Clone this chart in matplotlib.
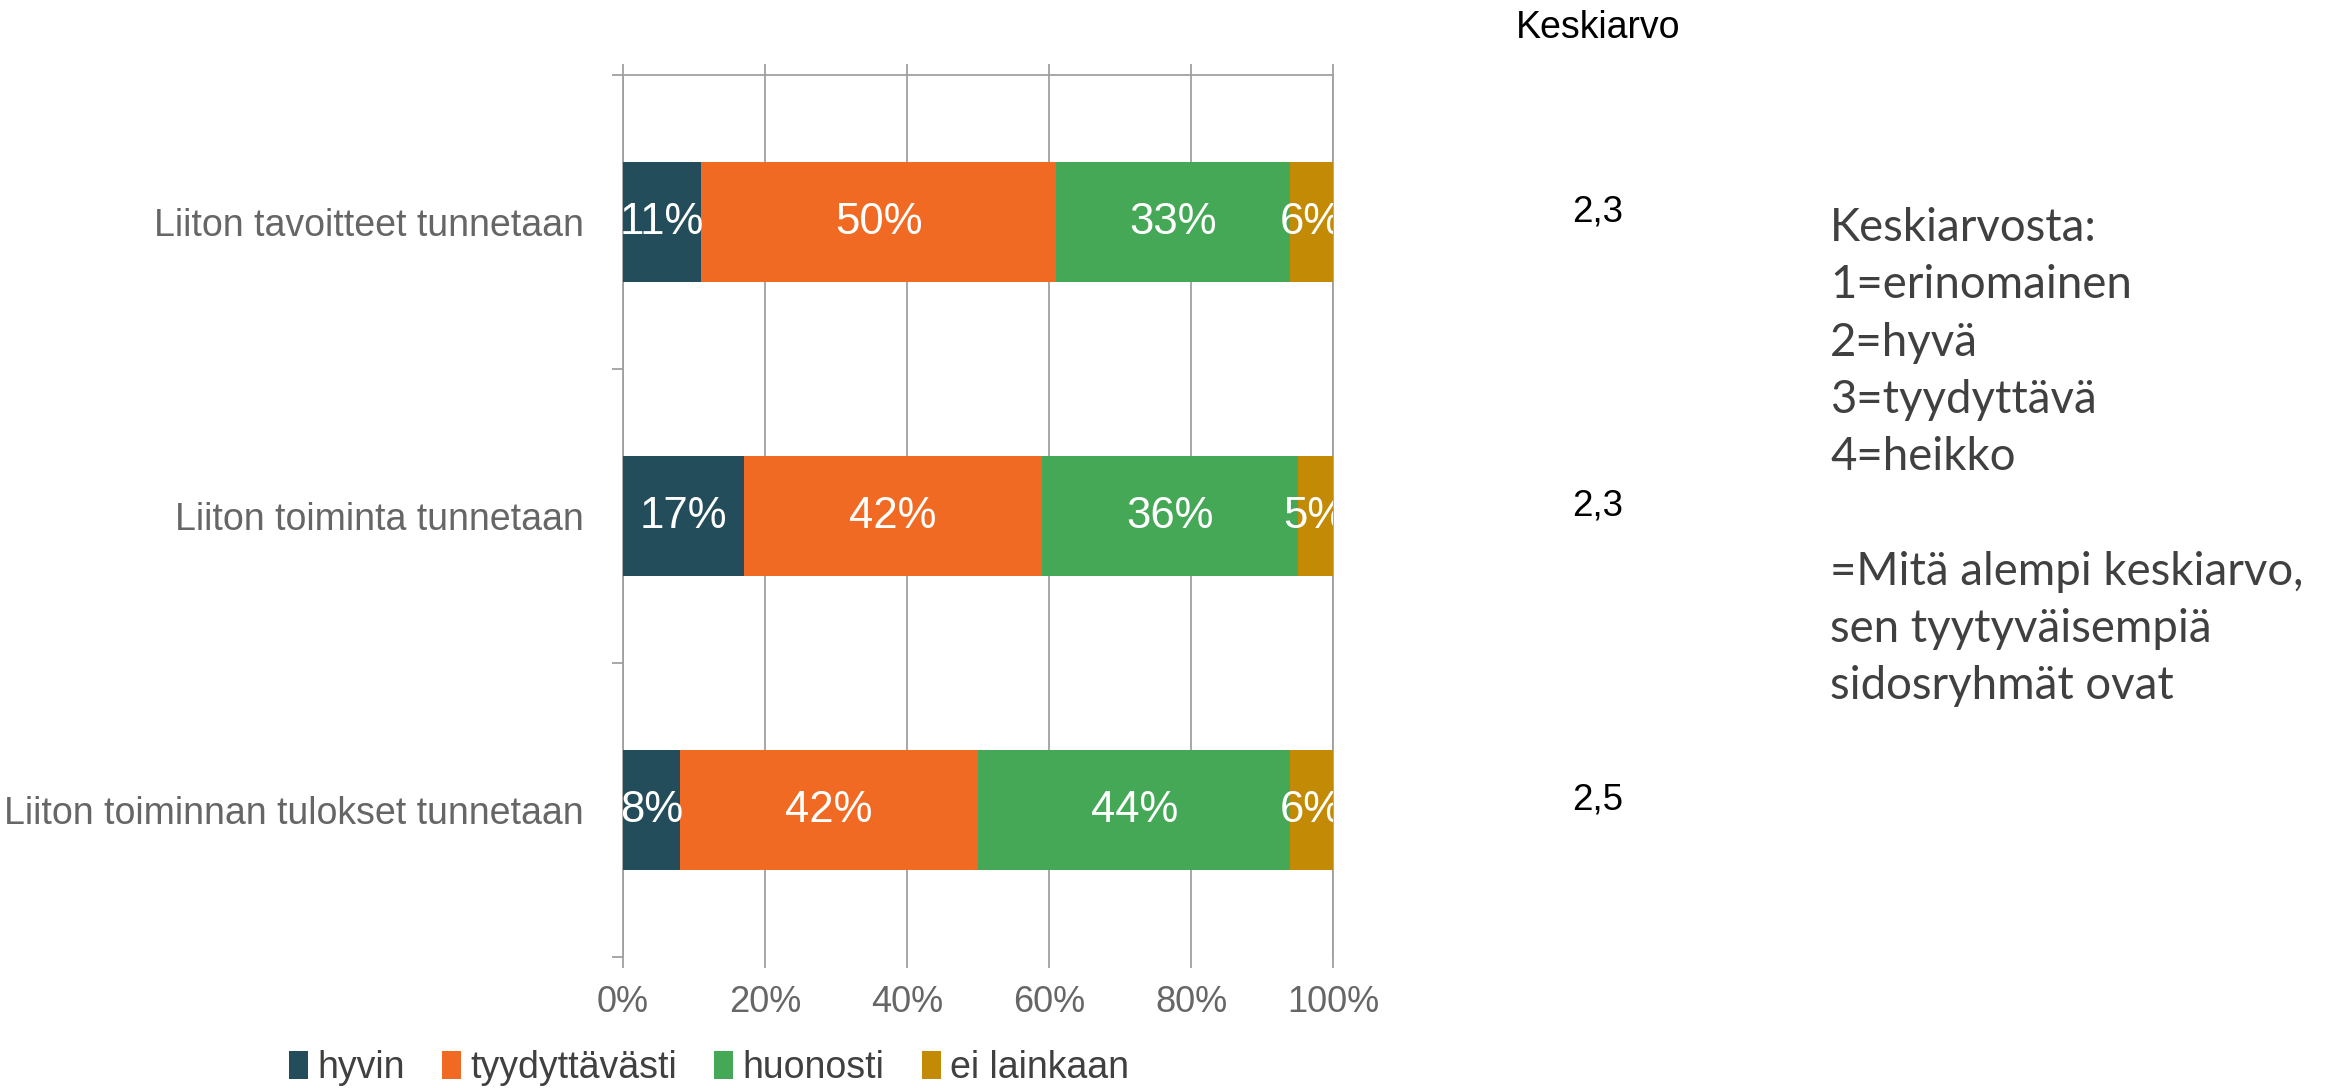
import matplotlib
matplotlib.use("Agg")
import matplotlib.pyplot as plt
import numpy as np
from matplotlib.ticker import FuncFormatter
from matplotlib.transforms import blended_transform_factory

# ---- data ----
categories = ["Liiton tavoitteet tunnetaan",
              "Liiton toiminta tunnetaan",
              "Liiton toiminnan tulokset tunnetaan"]
series_names = ["hyvin", "tyydyttävästi", "huonosti", "ei lainkaan"]
hyvin = [11, 17, 8]
tyydyttavasti = [50, 42, 42]
huonosti = [33, 36, 44]
ei_lainkaan = [6, 5, 6]
keskiarvo = ["2,3", "2,3", "2,5"]
colors = ["#234D5B", "#F16A24", "#45A856", "#C28A05"]
xticks = [0, 20, 40, 60, 80, 100]
note_lines = ["Keskiarvosta:", "1=erinomainen", "2=hyvä", "3=tyydyttävä",
              "4=heikko", "", "=Mitä alempi keskiarvo,",
              "sen tyytyväisempiä", "sidosryhmät ovat"]

plt.rcParams['font.family'] = ['Liberation Sans', 'DejaVu Sans']

W, H, DPI = 2333, 1088, 100
fig = plt.figure(figsize=(W / DPI, H / DPI), dpi=DPI)
ax = fig.add_axes([623 / W, 1 - 957 / H, (1333 - 623) / W, (957 - 75) / H])

grid_c = "#A0A0A0"
series = [hyvin, tyydyttavasti, huonosti, ei_lainkaan]
ypos = np.arange(len(categories))
left = np.zeros(len(categories))
for name, vals, c in zip(series_names, series, colors):
    vals = np.array(vals, dtype=float)
    bars = ax.barh(ypos, vals, left=left, height=0.405, color=c, label=name,
                   zorder=3)
    for b, v in zip(bars, vals):
        ax.text(b.get_x() + b.get_width() / 2, b.get_y() + b.get_height() / 2,
                f"{int(v)}%", ha="center", va="center", color="white",
                fontsize=31.5, zorder=4, clip_on=True)
    left += vals

ax.set_xlim(0, 100)
ax.set_ylim(len(categories) - 0.5, -0.5)
ax.set_xticks(xticks)
ax.xaxis.set_major_formatter(FuncFormatter(lambda v, p: f"{int(v)}%"))
ax.tick_params(axis="x", top=True, bottom=True, direction="out", length=8,
               color=grid_c, width=1.3, labelsize=26, labelcolor="#666666",
               pad=12.5)
ax.grid(axis="x", color=grid_c, linewidth=1.3, zorder=0)

ax.set_yticks(ypos)
ax.set_yticklabels(categories)
ax.tick_params(axis="y", which="major", length=0, labelsize=27,
               labelcolor="#666666", pad=28)
ax.set_yticks(np.arange(-0.5, len(categories) + 0.5, 1), minor=True)
ax.tick_params(axis="y", which="minor", length=8, width=1.3, color=grid_c,
               direction="out")

for s in ["left", "top", "right"]:
    ax.spines[s].set_color(grid_c)
    ax.spines[s].set_linewidth(1.3)
ax.spines["bottom"].set_visible(False)

# Keskiarvo column
fig.text(1598 / W, 1 - 28 / H, "Keskiarvo", ha="center", va="center",
         fontsize=27, color="black")
tr = blended_transform_factory(fig.transFigure, ax.transData)
for y, m in zip(ypos, keskiarvo):
    ax.annotate(m, xy=(1598 / W, y), xycoords=tr, xytext=(0, 7),
                textcoords="offset points", ha="center", va="center",
                fontsize=26.5, color="black")

# Explanation text
fig.text(1830 / W, 1 - 207 / H, "\n".join(note_lines), ha="left", va="top",
         fontsize=32.8, color="#404040", family=["Lato", "DejaVu Sans"],
         linespacing=1.45)

leg = fig.legend(loc="center", bbox_to_anchor=(709 / W, 1 - 1068 / H),
                 ncol=4, frameon=False, fontsize=27, handlelength=0.5,
                 handleheight=0.8, handletextpad=0.25, columnspacing=1.0,
                 labelcolor="#404040")

fig.savefig("out.png", dpi=DPI)
